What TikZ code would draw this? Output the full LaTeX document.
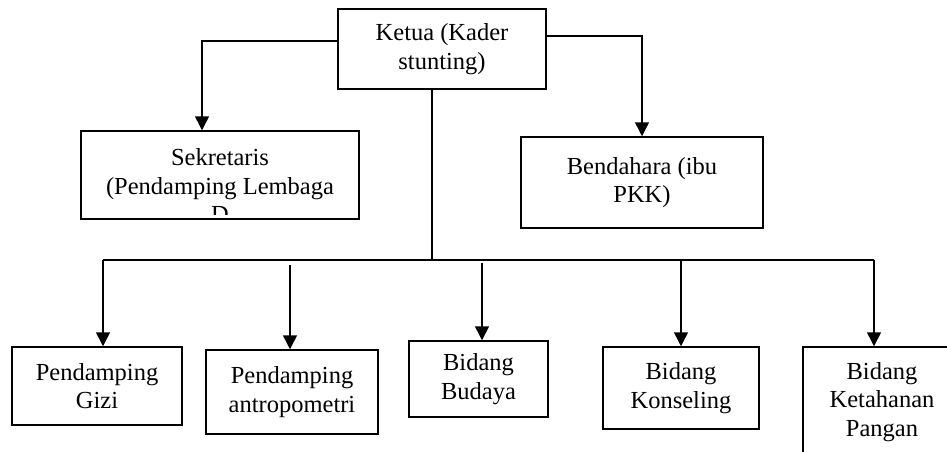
\documentclass[tikz,border=0pt]{standalone}
\usepackage{fontspec}
\setmainfont{Liberation Serif}
\usetikzlibrary{arrows.meta}
\begin{document}
\begin{tikzpicture}[x=1pt,y=-1pt,
    box/.style={draw,line width=1.5pt,inner sep=0pt,align=center,
      font=\fontsize{24.5}{28.5}\selectfont},
    lbl/.style={inner sep=0pt,align=center,font=\fontsize{24.5}{28.5}\selectfont},
    arr/.style={-{Triangle[width=14pt,length=14pt]}},
    line width=1.5pt]
      \clip (0,0) rectangle (947,451);
      \node[box,minimum width=208,minimum height=80] (ketua) at (442,49) {Ketua (Kader\\stunting)};
      \node[box,minimum width=278,minimum height=88] (sek) at (220,175) {};
      \node[box,minimum width=242,minimum height=91] (bend) at (642,182.5) {Bendahara (ibu\\PKK)};
      \node[box,minimum width=170,minimum height=78] (gizi) at (97,386) {Pendamping\\Gizi};
      \node[box,minimum width=172,minimum height=84] (antro) at (292,392) {Pendamping\\antropometri};
      \node[box,minimum width=139,minimum height=76] (budaya) at (478.5,379) {Bidang\\Budaya};
      \node[box,minimum width=156,minimum height=82] (kons) at (681,388) {Bidang\\Konseling};
      \node[box,minimum width=158,minimum height=110] (pangan) at (882,402) {Bidang\\Ketahanan\\Pangan};
      \begin{scope}
        \clip (sek.north west) rectangle ([yshift=5pt]sek.south east);
        \node[lbl] (sektext) at (220,186) {Sekretaris\\(Pendamping Lembaga\\D};
      \end{scope}
      \coordinate (bus) at (432,260);
      \coordinate (busL) at (103,260);
      \coordinate (busR) at (874,260);
      \coordinate (antrotop) at (290,265);
      \coordinate (budayatop) at (482,263);
      \begin{scope}[arr]
        \draw ([yshift=8pt]ketua.west) -| ([xshift=-18pt]sek.north);
        \draw ([yshift=13pt]ketua.east) -| (bend.north);
        \draw (busL) -- ([xshift=6pt]gizi.north);
        \draw (antrotop) -- (antro.north -| antrotop);
        \draw (budayatop) -- (budaya.north -| budayatop);
        \draw (kons.north |- bus) -- (kons.north);
        \draw (busR) -- ([xshift=-8pt]pangan.north);
      \end{scope}
      \draw ([xshift=-10pt]ketua.south) -- (bus);
      \draw (busL) -- (busR);
    \end{tikzpicture}
\end{document}
